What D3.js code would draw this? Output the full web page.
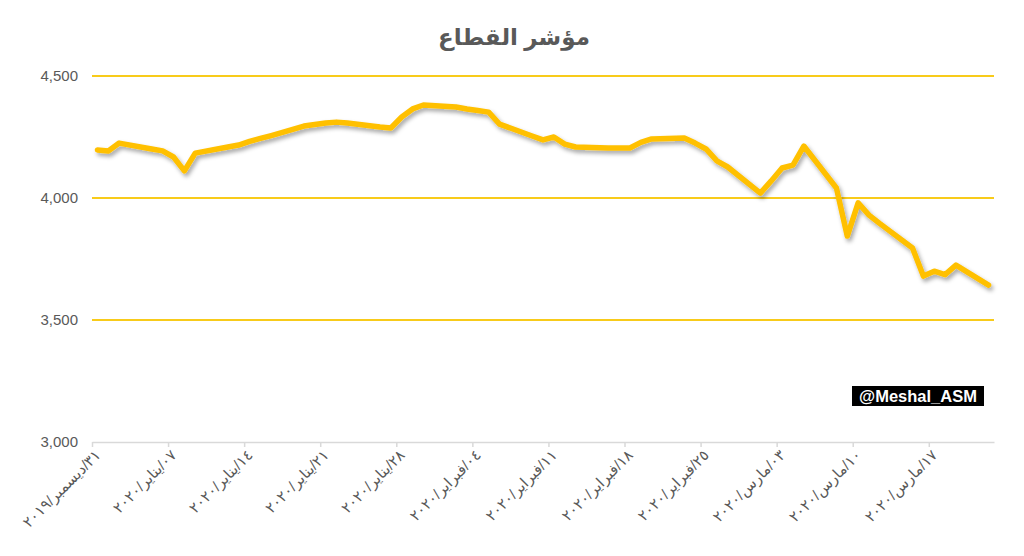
<!DOCTYPE html>
<html>
<head>
<meta charset="utf-8">
<script src="https://cdn.jsdelivr.net/npm/d3@7"></script>
<style>
  html, body { margin: 0; padding: 0; background: #fff; }
  svg { display: block; }
</style>
</head>
<body>
<svg id="chart" width="1024" height="556"></svg>
<script>
// ---- data ----
const title = "مؤشر القطاع";
const watermark = "@Meshal_ASM";
const dates = [
  "2019-12-31","2020-01-01","2020-01-02",
  "2020-01-05","2020-01-06","2020-01-07","2020-01-08","2020-01-09",
  "2020-01-12","2020-01-13","2020-01-14","2020-01-15","2020-01-16",
  "2020-01-19","2020-01-20","2020-01-21","2020-01-22","2020-01-23",
  "2020-01-26","2020-01-27","2020-01-28","2020-01-29","2020-01-30",
  "2020-02-02","2020-02-03","2020-02-04","2020-02-05","2020-02-06",
  "2020-02-09","2020-02-10","2020-02-11","2020-02-12","2020-02-13",
  "2020-02-16","2020-02-17","2020-02-18","2020-02-19","2020-02-20",
  "2020-02-23","2020-02-24","2020-02-25","2020-02-26","2020-02-27",
  "2020-03-01","2020-03-02","2020-03-03","2020-03-04","2020-03-05",
  "2020-03-08","2020-03-09","2020-03-10","2020-03-11","2020-03-12",
  "2020-03-15","2020-03-16","2020-03-17","2020-03-18","2020-03-19",
  "2020-03-22"
];
const values = [
  4197, 4193, 4225,
  4201, 4193, 4168, 4111, 4184,
  4209, 4217, 4232, 4244, 4256,
  4295, 4301, 4307, 4311, 4307,
  4291, 4287, 4332, 4365, 4381,
  4373, 4365, 4359, 4352, 4303,
  4254, 4238, 4250, 4221, 4209,
  4205, 4205, 4205, 4228, 4242,
  4246, 4225, 4201, 4152, 4127,
  4020, 4070, 4123, 4135, 4213,
  4041, 3844, 3980, 3930, 3895,
  3795, 3680, 3700, 3686, 3725,
  3643
];
const xTickDates = ["2019-12-31","2020-01-07","2020-01-14","2020-01-21","2020-01-28",
  "2020-02-04","2020-02-11","2020-02-18","2020-02-25","2020-03-03","2020-03-10","2020-03-17"];
const xTickLabels = [
  "٣١/ديسمبر/٢٠١٩","٠٧/يناير/٢٠٢٠","١٤/يناير/٢٠٢٠","٢١/يناير/٢٠٢٠","٢٨/يناير/٢٠٢٠",
  "٠٤/فبراير/٢٠٢٠","١١/فبراير/٢٠٢٠","١٨/فبراير/٢٠٢٠","٢٥/فبراير/٢٠٢٠",
  "٠٣/مارس/٢٠٢٠","١٠/مارس/٢٠٢٠","١٧/مارس/٢٠٢٠"
];
const yTicks = [3000, 3500, 4000, 4500];
const xDomain = ["2019-12-31", "2020-03-23"];
const yDomain = [3000, 4500];

// ---- drawing ----
const parse = d3.utcParse("%Y-%m-%d");
const svg = d3.select("#chart");
const M = { left: 92, right: 994, top: 76, bottom: 442 };

const x = d3.scaleUtc().domain(xDomain.map(parse)).range([M.left, M.right]);
const y = d3.scaleLinear().domain(yDomain).range([M.bottom, M.top]);

const defs = svg.append("defs");
const f = defs.append("filter").attr("id", "shadow")
  .attr("x", "-5%").attr("y", "-20%").attr("width", "110%").attr("height", "140%");
f.append("feDropShadow").attr("dx", 2).attr("dy", 3).attr("stdDeviation", 2)
  .attr("flood-color", "#000").attr("flood-opacity", 0.35);

// title
svg.append("text")
  .attr("x", 514).attr("y", 45)
  .attr("text-anchor", "middle")
  .attr("font-family", "Arial, 'Liberation Sans', 'DejaVu Sans', sans-serif")
  .attr("font-size", 23).attr("font-weight", "bold")
  .attr("fill", "#595959")
  .text(title);

// gridlines
svg.append("g").selectAll("line")
  .data(yTicks.filter(v => v !== yDomain[0]))
  .join("line")
  .attr("x1", M.left).attr("x2", M.right)
  .attr("y1", d => y(d)).attr("y2", d => y(d))
  .attr("stroke", "#F8CB1A").attr("stroke-width", 2);

// y axis
const yAxis = d3.axisLeft(y).tickValues(yTicks).tickFormat(d3.format(",")).tickSize(0).tickPadding(14);
const gy = svg.append("g").attr("transform", `translate(${M.left},0)`).call(yAxis);
gy.select(".domain").remove();
gy.selectAll("text")
  .attr("font-family", "'Liberation Sans', Arial, sans-serif")
  .attr("font-size", 15).attr("fill", "#595959");

// x axis
const xAxis = d3.axisBottom(x)
  .tickValues(xTickDates.map(parse))
  .tickFormat((d, i) => xTickLabels[i])
  .tickSize(5).tickSizeOuter(0);
const gx = svg.append("g").attr("transform", `translate(0,${M.bottom})`).call(xAxis);
gx.select(".domain").attr("stroke", "#D9D9D9").attr("stroke-width", 1.5);
gx.selectAll(".tick line").attr("stroke", "#D9D9D9").attr("stroke-width", 1.5);
gx.selectAll("text")
  .attr("font-family", "Arial, 'Liberation Sans', 'DejaVu Sans', sans-serif")
  .attr("font-size", 15).attr("fill", "#595959")
  .attr("text-anchor", "end")
  .attr("dy", null).attr("y", 0)
  .attr("transform", "translate(9,14) rotate(-45)");

// line
const pts = dates.map((d, i) => ({ date: d3.utcHour.offset(parse(d), 12), value: values[i] }));
const line = d3.line().x(d => x(d.date)).y(d => y(d.value));
svg.append("path")
  .datum(pts)
  .attr("d", line)
  .attr("fill", "none")
  .attr("stroke", "#FFC000")
  .attr("stroke-width", 5.5)
  .attr("stroke-linejoin", "round")
  .attr("stroke-linecap", "round")
  .attr("filter", "url(#shadow)");

// watermark
const wm = svg.append("g");
wm.append("rect").attr("x", 852).attr("y", 386).attr("width", 132).attr("height", 20).attr("fill", "#000");
wm.append("text").attr("x", 918).attr("y", 402)
  .attr("text-anchor", "middle")
  .attr("font-family", "Arial, 'Liberation Sans', sans-serif")
  .attr("font-size", 16.5).attr("font-weight", "bold").attr("fill", "#fff")
  .text(watermark);
</script>
</body>
</html>
